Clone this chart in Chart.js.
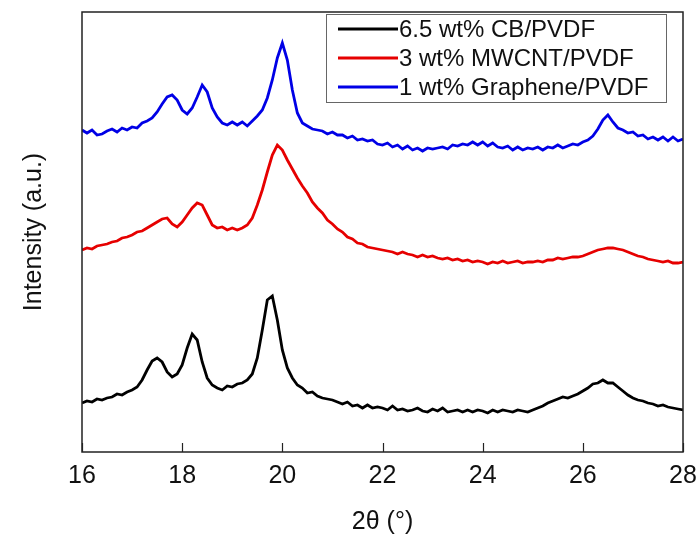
<!DOCTYPE html>
<html>
<head>
<meta charset="utf-8">
<script src="https://cdn.jsdelivr.net/npm/chart.js@4.4.0/dist/chart.umd.min.js"></script>
<style>
  html, body { margin: 0; padding: 0; background: #fff; }
  #wrap { width: 697px; height: 537px; }
</style>
</head>
<body>
<div id="wrap"><canvas id="xrd"></canvas></div>
<script>
// 2theta from 16 to 28 in steps of 0.1
var twoTheta = [];
for (var i = 0; i <= 120; i++) twoTheta.push(+(16 + i * 0.1).toFixed(1));

var xTicks = [16, 18, 20, 22, 24, 26, 28];

var seriesNames = ["6.5 wt% CB/PVDF", "3 wt% MWCNT/PVDF", "1 wt% Graphene/PVDF"];
var seriesColors = ["#000000", "#e60000", "#0000e6"];

// intensities (a.u., curves stacked with offsets as in the figure)
var cbPvdf = [
  57, 59, 58, 61, 60, 62, 63, 66, 65, 68,
  70, 73, 80, 90, 99, 102, 98, 88, 83, 86,
  95, 112, 126, 120, 98, 82, 75, 72, 70, 74,
  73, 76, 77, 80, 86, 102, 130, 160, 164, 140,
  110, 92, 82, 75, 72, 67, 68, 64, 62, 61,
  60, 58, 56, 58, 54, 55, 52, 55, 52, 53,
  52, 50, 54, 50, 51, 49, 50, 52, 49, 48,
  51, 49, 52, 48, 49, 50, 48, 50, 48, 50,
  49, 47, 50, 48, 50, 49, 48, 50, 49, 48,
  50, 52, 54, 57, 59, 61, 63, 62, 64, 66,
  69, 72, 76, 77, 80, 77, 77, 73, 69, 65,
  62, 60, 59, 57, 56, 54, 55, 53, 52, 51,
  50
];

var mwcntPvdf = [
  210, 212, 211, 214, 215, 216, 218, 219, 222, 223,
  225, 228, 229, 232, 235, 238, 241, 242, 236, 233,
  238, 245, 252, 257, 255, 245, 235, 232, 233, 230,
  232, 230, 232, 235, 242, 255, 270, 288, 305, 315,
  310, 300, 291, 282, 274, 267, 258, 252, 247, 240,
  236, 231, 228, 223, 221, 217, 216, 213, 212, 211,
  210, 209, 208, 206, 208, 206, 205, 203, 205, 203,
  204, 202, 201, 202, 200, 201, 199, 200, 198, 199,
  198, 196, 198, 197, 199, 197, 198, 199, 197, 198,
  198, 199, 198, 200, 200, 202, 201, 202, 203, 203,
  204, 206, 208, 210, 211, 212, 212, 211, 210, 208,
  206, 204, 203, 201, 200, 199, 198, 199, 197, 197,
  198
];

var graphenePvdf = [
  330, 327, 330, 325, 326, 329, 331, 328, 332, 330,
  333, 332, 337, 339, 342, 348, 356, 363, 365, 360,
  350, 346, 352, 363, 375, 368, 352, 343, 337, 335,
  338, 335, 338, 334, 339, 344, 350, 362, 380, 402,
  417, 400, 370, 347, 337, 334, 331, 330, 329, 326,
  328, 325, 325, 322, 324, 320, 321, 319, 320, 316,
  315, 317, 313, 315, 311, 314, 310, 312, 309, 312,
  311, 312, 313, 311, 315, 314, 316, 315, 318, 315,
  318, 314, 317, 313, 312, 314, 310, 313, 310, 312,
  311, 313, 310, 313, 312, 315, 312, 314, 316, 315,
  318, 320, 324, 331, 340, 345, 338, 332, 330, 327,
  328, 324, 325, 321, 323, 320, 323, 319, 323, 319,
  321
];

var allSeries = [cbPvdf, mwcntPvdf, graphenePvdf];

function toPoints(ys) {
  return ys.map(function (y, i) { return { x: twoTheta[i], y: y }; });
}

var FONT = "'Liberation Sans', Arial, sans-serif";

// box around the plot + inward ticks on the bottom axis
var framePlugin = {
  id: "frame",
  afterDraw: function (chart) {
    var c = chart.ctx, a = chart.chartArea, xs = chart.scales.x;
    c.save();
    c.strokeStyle = "#222";
    c.lineWidth = 1.5;
    c.strokeRect(a.left, a.top, a.right - a.left, a.bottom - a.top);
    c.lineWidth = 1.2;
    xTicks.forEach(function (t) {
      var px = Math.round(xs.getPixelForValue(t)) + 0.5;
      c.beginPath();
      c.moveTo(px, a.bottom);
      c.lineTo(px, a.bottom - 9);
      c.stroke();
    });
    c.restore();
  }
};

// boxed legend in the top right corner of the plot
var legendBoxPlugin = {
  id: "legendBox",
  afterDraw: function (chart) {
    var c = chart.ctx, a = chart.chartArea;
    var left = a.right - 357, top = a.top + 2, w = 340, h = 88;
    c.save();
    c.fillStyle = "#fff";
    c.fillRect(left, top, w, h);
    c.strokeStyle = "#666";
    c.lineWidth = 1;
    c.strokeRect(left + 0.5, top + 0.5, w, h);
    c.font = "24px " + FONT;
    c.textBaseline = "middle";
    chart.data.datasets.forEach(function (ds, i) {
      var y = top + 15 + i * 29;
      c.strokeStyle = ds.borderColor;
      c.lineWidth = 3;
      c.beginPath();
      c.moveTo(left + 12, y);
      c.lineTo(left + 72, y);
      c.stroke();
      c.fillStyle = "#111";
      c.fillText(ds.label, left + 73, y + 1);
    });
    c.restore();
  }
};

new Chart(document.getElementById("xrd"), {
  type: "line",
  data: {
    datasets: allSeries.map(function (s, i) {
      return {
        label: seriesNames[i],
        data: toPoints(s),
        borderColor: seriesColors[i],
        borderWidth: 2.8,
        pointRadius: 0,
        tension: 0,
        fill: false
      };
    })
  },
  options: {
    responsive: true,
    maintainAspectRatio: false,
    animation: false,
    layout: { padding: { top: 12, right: 14, left: 0, bottom: 0 } },
    plugins: {
      legend: { display: false },
      tooltip: { enabled: false }
    },
    scales: {
      x: {
        type: "linear",
        min: 16,
        max: 28,
        afterBuildTicks: function (s) {
          s.ticks = xTicks.map(function (v) { return { value: v }; });
        },
        afterFit: function (s) {
          s.height = 85;
          s.paddingLeft = 0;
          s.paddingRight = 0;
        },
        grid: { display: false, drawTicks: false },
        border: { display: false },
        ticks: {
          color: "#111",
          padding: 9,
          font: { family: FONT, size: 25 },
          maxRotation: 0
        },
        title: {
          display: true,
          text: "2θ (°)",
          color: "#111",
          font: { family: FONT, size: 25 },
          padding: { top: 0, bottom: 0 }
        }
      },
      y: {
        min: 8,
        max: 448,
        afterFit: function (s) { s.width = 82; },
        grid: { display: false, drawTicks: false },
        border: { display: false },
        ticks: { display: false },
        title: {
          display: true,
          text: "Intensity (a.u.)",
          color: "#111",
          font: { family: FONT, size: 25 },
          padding: { top: 19, bottom: 0 }
        }
      }
    }
  },
  plugins: [framePlugin, legendBoxPlugin]
});
</script>
</body>
</html>
